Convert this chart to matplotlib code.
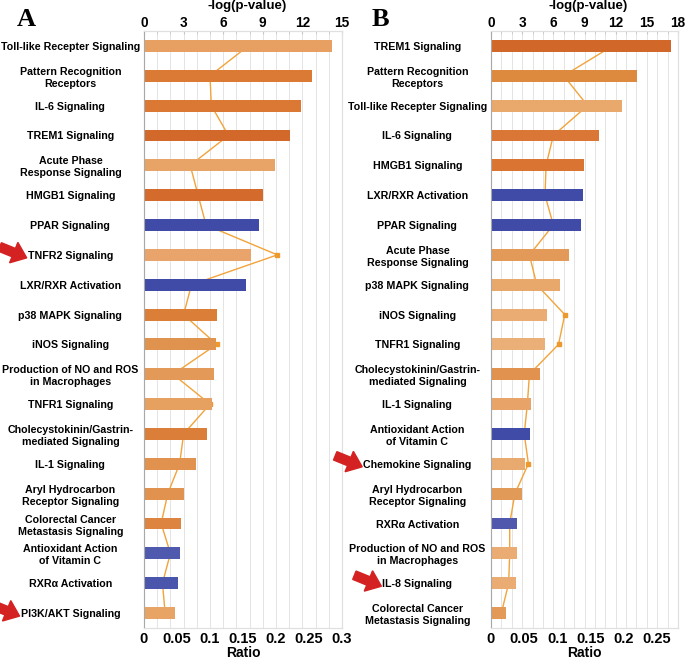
import matplotlib
matplotlib.use("Agg")
import matplotlib.pyplot as plt
from matplotlib import font_manager
from matplotlib.patches import FancyArrow
from matplotlib.transforms import IdentityTransform
import numpy as np

# ---- data ----
cats_a = ["Toll-like Recepter Signaling", "Pattern Recognition\nReceptors", "IL-6 Signaling",
          "TREM1 Signaling", "Acute Phase\nResponse Signaling", "HMGB1 Signaling",
          "PPAR Signaling", "TNFR2 Signaling", "LXR/RXR Activation", "p38 MAPK Signaling",
          "iNOS Signaling", "Production of NO and ROS\nin Macrophages", "TNFR1 Signaling",
          "Cholecystokinin/Gastrin-\nmediated Signaling", "IL-1 Signaling",
          "Aryl Hydrocarbon\nReceptor Signaling", "Colorectal Cancer\nMetastasis Signaling",
          "Antioxidant Action\nof Vitamin C", "RXRα Activation", "PI3K/AKT Signaling"]
ratio_a = [0.285, 0.255, 0.238, 0.221, 0.198, 0.180, 0.174, 0.162, 0.155, 0.111,
           0.109, 0.106, 0.103, 0.095, 0.079, 0.061, 0.056, 0.055, 0.052, 0.047]
logp_a = [7.9, 5.0, 5.1, 6.4, 3.5, 4.1, 4.7, 10.1, 3.6, 3.0,
          5.5, 2.2, 5.0, 3.0, 2.7, 1.8, 1.3, 2.0, 1.4, 1.6]
colors_a = ["#E8A062", "#DB7A34", "#DA7834", "#D2692A", "#E8A466", "#D46A2C", "#3F4BA6",
            "#E8A46A", "#3F4BA6", "#DB7E38", "#E0934E", "#E39A58", "#E6A060", "#DA7E3A",
            "#E0924E", "#E0924E", "#DC8440", "#4F5AAE", "#4A55AC", "#E8A465"]

cats_b = ["TREM1 Signaling", "Pattern Recognition\nReceptors", "Toll-like Recepter Signaling",
          "IL-6 Signaling", "HMGB1 Signaling", "LXR/RXR Activation", "PPAR Signaling",
          "Acute Phase\nResponse Signaling", "p38 MAPK Signaling", "iNOS Signaling",
          "TNFR1 Signaling", "Cholecystokinin/Gastrin-\nmediated Signaling", "IL-1 Signaling",
          "Antioxidant Action\nof Vitamin C", "Chemokine Signaling",
          "Aryl Hydrocarbon\nReceptor Signaling", "RXRα Activation",
          "Production of NO and ROS\nin Macrophages", "IL-8 Signaling",
          "Colorectal Cancer\nMetastasis Signaling"]
ratio_b = [0.271, 0.220, 0.197, 0.163, 0.140, 0.139, 0.136, 0.117, 0.104, 0.084,
           0.081, 0.074, 0.060, 0.059, 0.051, 0.047, 0.039, 0.039, 0.038, 0.023]
logp_b = [11.7, 7.0, 9.3, 6.0, 5.3, 5.2, 6.0, 3.7, 4.4, 7.1,
          6.5, 3.7, 3.5, 3.2, 3.6, 2.3, 1.8, 1.8, 1.7, 1.0]
colors_b = ["#D2672A", "#DE8A3E", "#E9A86C", "#DA7636", "#D97432", "#3F4BA6", "#3F4BA6",
            "#E39A58", "#E8A86C", "#EAAC72", "#EBB078", "#E0924E", "#E8A468", "#3F4BA6",
            "#E9AA70", "#E29A58", "#5058AE", "#EAAC72", "#EAAC72", "#E39A58"]

# pathways marked with a red arrow (panel, label)
marked = [("A", "TNFR2 Signaling"), ("A", "PI3K/AKT Signaling"),
          ("B", "Chemokine Signaling"), ("B", "IL-8 Signaling")]

names = {f.name for f in font_manager.fontManager.ttflist}
narrow = "Liberation Sans Narrow" if "Liberation Sans Narrow" in names else "Liberation Sans"
lab_size = 9.3 if narrow == "Liberation Sans Narrow" else 7.7

W, H = 685, 662
fig = plt.figure(figsize=(W / 100, H / 100), dpi=100)
TOP, BOT = 31, 628   # pixel rows of the plot area


def panel(left, width, cats, ratio, logp, colors, rmax, pmax, letter, letter_x):
    rect = [left / W, (H - BOT) / H, width / W, (BOT - TOP) / H]
    ax = fig.add_axes(rect)
    n = len(cats)
    y = np.arange(n)
    ax.barh(y, ratio, height=0.4, color=colors, zorder=2)
    ax.set_xlim(0, rmax)
    ax.set_ylim(n - 0.5, -0.5)
    xt = np.arange(0, rmax + 1e-6, 0.05)
    ax.set_xticks(xt)
    ax.set_xticklabels([f"{v:g}" for v in xt],
                       fontfamily="Liberation Sans", fontweight="bold", fontsize=10.5)
    ax.tick_params(axis="x", length=0, pad=3)
    ax.set_xlabel("Ratio", fontfamily="Liberation Sans", fontweight="bold", fontsize=10, labelpad=0)
    ax.set_yticks(y)
    ax.set_yticklabels(cats, ha="center", multialignment="center",
                       fontfamily=narrow, fontweight="bold", fontsize=lab_size, linespacing=1.25)
    ax.tick_params(axis="y", length=0, pad=53)

    top = ax.twiny()
    top.set_xlim(0, pmax)
    top.set_xticks(np.arange(0, pmax + 1, 3))
    top.set_xticklabels([str(v) for v in range(0, pmax + 1, 3)],
                        fontfamily="Liberation Sans", fontweight="bold", fontsize=9.8)
    top.set_xticks(np.arange(0, pmax + 1, 1), minor=True)
    top.tick_params(axis="x", which="both", direction="in", length=2, color="#C8C8C8", pad=0.5)
    top.xaxis.grid(True, which="both", color="#E4E4E4", lw=0.7, zorder=0)
    top.set_axisbelow(True)
    top.plot(logp, y, color="#F2A33A", lw=1, marker="s", ms=3.5,
             markerfacecolor="#EC9A2E", markeredgecolor="#EC9A2E", zorder=4)

    # title of the top axis, placed by hand so it clears the tick labels
    fig.text((left + width / 2 + 4) / W, 1.0, "-log(p-value)", fontfamily="Liberation Sans",
             fontweight="bold", fontsize=9.5, ha="center", va="top")

    ax.set_zorder(top.get_zorder() + 1)
    ax.patch.set_visible(False)
    top.patch.set_visible(False)
    for a in (ax, top):
        for s in a.spines.values():
            s.set_color("#E0E0E0")
            s.set_linewidth(0.8)
    ax.spines["left"].set_color("#A8A8A8")

    fig.text(letter_x / W, 1 - 19 / H, letter, fontfamily="Liberation Serif", fontweight="bold",
             fontsize=19, ha="center", va="center")
    return ax


axes = {}
axes["A"] = panel(144, 198, cats_a, ratio_a, logp_a, colors_a, 0.3, 15, "A", 26)
axes["B"] = panel(491, 187, cats_b, ratio_b, logp_b, colors_b, 0.2816, 18, "B", 380)

# red block arrows ending just left of the marked labels
fig.canvas.draw()
rend = fig.canvas.get_renderer()
for key, name in marked:
    for lab in axes[key].get_yticklabels():
        if lab.get_text() == name:
            bb = lab.get_window_extent(rend)
            tip_x = bb.x0 - 1
            tip_y = (bb.y0 + bb.y1) / 2 - 2
            dx, dy = 27, -11
            fig.patches.append(FancyArrow(
                tip_x - dx, tip_y - dy, dx, dy, width=9, head_width=22, head_length=14,
                length_includes_head=True, color="#D42222",
                transform=IdentityTransform(), figure=fig))

plt.savefig("out.png", dpi=100)
